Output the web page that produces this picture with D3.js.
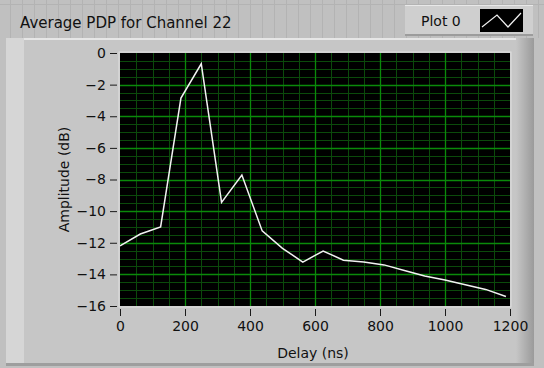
<!DOCTYPE html>
<html>
<head>
<meta charset="utf-8">
<script src="https://cdn.jsdelivr.net/npm/d3@7"></script>
<style>
  body { margin: 0; background: #c0c0c0; }
  svg { display: block; font-family: "DejaVu Sans", sans-serif; }
</style>
</head>
<body>
<svg id="chart" width="544" height="368"></svg>
<script>
// Average power delay profile, one sample every 62.5 ns
const delays = [0, 62.5, 125, 187.5, 250, 312.5, 375, 437.5, 500, 562.5,
                625, 687.5, 750, 812.5, 875, 937.5, 1000, 1062.5, 1125, 1187.5];
const amplitudes = [-12.2, -11.45, -11.0, -2.85, -0.68, -9.45, -7.72, -11.25, -12.35, -13.22,
                    -12.52, -13.1, -13.22, -13.4, -13.75, -14.1, -14.35, -14.65, -14.95, -15.4];
const xTicks = [0, 200, 400, 600, 800, 1000, 1200];
const yTicks = [0, -2, -4, -6, -8, -10, -12, -14, -16];
const title = "Average PDP for Channel 22";
const legendLabel = "Plot 0";
const xLabel = "Delay (ns)";
const yLabel = "Amplitude (dB)";

const W = 544, H = 368;
const plot = { left: 120, top: 53, right: 510, bottom: 306 };
const ink = "#111";

const svg = d3.select("#chart");

// ---- front panel background with its faint alignment grid ----
svg.append("rect").attr("width", W).attr("height", H).attr("fill", "#c0c0c0");
const panelGrid = svg.append("g").attr("stroke", "#b3b3b3").attr("stroke-width", 1);
d3.range(10, W, 12).forEach(px => {
  panelGrid.append("line").attr("x1", px + 0.5).attr("x2", px + 0.5).attr("y1", 0).attr("y2", 38);
});
panelGrid.append("line").attr("x1", 0).attr("x2", W).attr("y1", 4.5).attr("y2", 4.5);

// ---- graph body (raised frame) ----
const defs = svg.append("defs");
const rightShade = defs.append("linearGradient").attr("id", "rightShade");
rightShade.append("stop").attr("offset", "0%").attr("stop-color", "#c6c6c6");
rightShade.append("stop").attr("offset", "100%").attr("stop-color", "#9a9a9a");

svg.append("rect").attr("x", 6).attr("y", 38).attr("width", 528).attr("height", 328)
  .attr("fill", "#c6c6c6");
svg.append("rect").attr("x", 6).attr("y", 38).attr("width", 528).attr("height", 2).attr("fill", "#e6e6e6");
svg.append("rect").attr("x", 6).attr("y", 38).attr("width", 18).attr("height", 328).attr("fill", "#d6d6d6");
svg.append("rect").attr("x", 516).attr("y", 38).attr("width", 18).attr("height", 328).attr("fill", "url(#rightShade)");
svg.append("rect").attr("x", 6).attr("y", 363).attr("width", 528).attr("height", 3).attr("fill", "#9e9e9e");

// ---- title label ----
svg.append("text").attr("x", 20).attr("y", 28).attr("font-size", 15).attr("fill", ink)
  .text(title);

// ---- plot legend ----
const lg = svg.append("g");
lg.append("rect").attr("x", 405).attr("y", 5).attr("width", 128).attr("height", 30).attr("fill", "#cfcfcf");
lg.append("rect").attr("x", 405).attr("y", 5).attr("width", 128).attr("height", 1).attr("fill", "#e8e8e8");
lg.append("rect").attr("x", 405).attr("y", 34).attr("width", 128).attr("height", 2).attr("fill", "#9c9c9c");
lg.append("text").attr("x", 421).attr("y", 26).attr("font-size", 14).attr("fill", ink).text(legendLabel);
lg.append("rect").attr("x", 480).attr("y", 9).attr("width", 43).attr("height", 23).attr("fill", "#000");
lg.append("path").attr("d", "M482,27 L497,15 L508,27 L521,13")
  .attr("fill", "none").attr("stroke", "#f0f0f0").attr("stroke-width", 1.2);

// ---- scales ----
const x = d3.scaleLinear().domain([0, 1200]).range([plot.left, plot.right]);
const y = d3.scaleLinear().domain([-16, 0]).range([plot.bottom, plot.top]);

// ---- plot area ----
svg.append("rect").attr("x", plot.left - 1).attr("y", plot.top - 1)
  .attr("width", plot.right - plot.left + 2).attr("height", plot.bottom - plot.top + 2)
  .attr("fill", "none").attr("stroke", "#e0e0e0");
svg.append("rect").attr("x", plot.left).attr("y", plot.top)
  .attr("width", plot.right - plot.left).attr("height", plot.bottom - plot.top)
  .attr("fill", "#000");

const grid = svg.append("g");
const xMinor = d3.range(50, 1200, 50).filter(v => v % 200 !== 0);
const yMinor = d3.range(-15.5, 0, 0.5).filter(v => v % 2 !== 0);
grid.selectAll(".xm").data(xMinor).join("line")
  .attr("x1", d => Math.round(x(d)) + 0.5).attr("x2", d => Math.round(x(d)) + 0.5)
  .attr("y1", plot.top).attr("y2", plot.bottom).attr("stroke", "#0b4a0b");
grid.selectAll(".ym").data(yMinor).join("line")
  .attr("y1", d => Math.round(y(d)) + 0.5).attr("y2", d => Math.round(y(d)) + 0.5)
  .attr("x1", plot.left).attr("x2", plot.right).attr("stroke", "#0b4a0b");
grid.selectAll(".xM").data(xTicks.filter(v => v > 0 && v < 1200)).join("line")
  .attr("x1", d => Math.round(x(d)) + 0.5).attr("x2", d => Math.round(x(d)) + 0.5)
  .attr("y1", plot.top).attr("y2", plot.bottom).attr("stroke", "#0a8a0a").attr("stroke-width", 1.3);
grid.selectAll(".yM").data(yTicks.filter(v => v < 0 && v > -16)).join("line")
  .attr("y1", d => Math.round(y(d)) + 0.5).attr("y2", d => Math.round(y(d)) + 0.5)
  .attr("x1", plot.left).attr("x2", plot.right).attr("stroke", "#0a8a0a").attr("stroke-width", 1.3);

// ---- data trace ----
const line = d3.line().x((d, i) => x(delays[i])).y(d => y(d));
svg.append("path").datum(amplitudes).attr("d", line)
  .attr("fill", "none").attr("stroke", "#f2f2f2").attr("stroke-width", 1.5)
  .attr("stroke-linejoin", "miter");

// ---- axes ----
const xAxis = d3.axisBottom(x).tickValues(xTicks).tickSize(7).tickPadding(5).tickFormat(d3.format("d"));
const gx = svg.append("g").attr("transform", `translate(0,${plot.bottom + 3})`).call(xAxis);
gx.select(".domain").remove();
gx.selectAll("line").attr("stroke", "#1a1a1a");
gx.selectAll("text").attr("font-size", 14).attr("fill", ink).attr("font-family", "DejaVu Sans");

const yAxis = d3.axisLeft(y).tickValues(yTicks).tickSize(7).tickPadding(4).tickFormat(d3.format("d"));
const gy = svg.append("g").attr("transform", `translate(${plot.left - 3},0)`).call(yAxis);
gy.select(".domain").remove();
gy.selectAll("line").attr("stroke", "#1a1a1a");
gy.selectAll("text").attr("font-size", 14).attr("fill", ink).attr("font-family", "DejaVu Sans");

// ---- axis titles ----
svg.append("text").attr("x", 313).attr("y", 358)
  .attr("text-anchor", "middle").attr("font-size", 14).attr("fill", ink).text(xLabel);
svg.append("text").attr("transform", `translate(69,${(plot.top + plot.bottom) / 2}) rotate(-90)`)
  .attr("text-anchor", "middle").attr("font-size", 14).attr("fill", ink).text(yLabel);
</script>
</body>
</html>
